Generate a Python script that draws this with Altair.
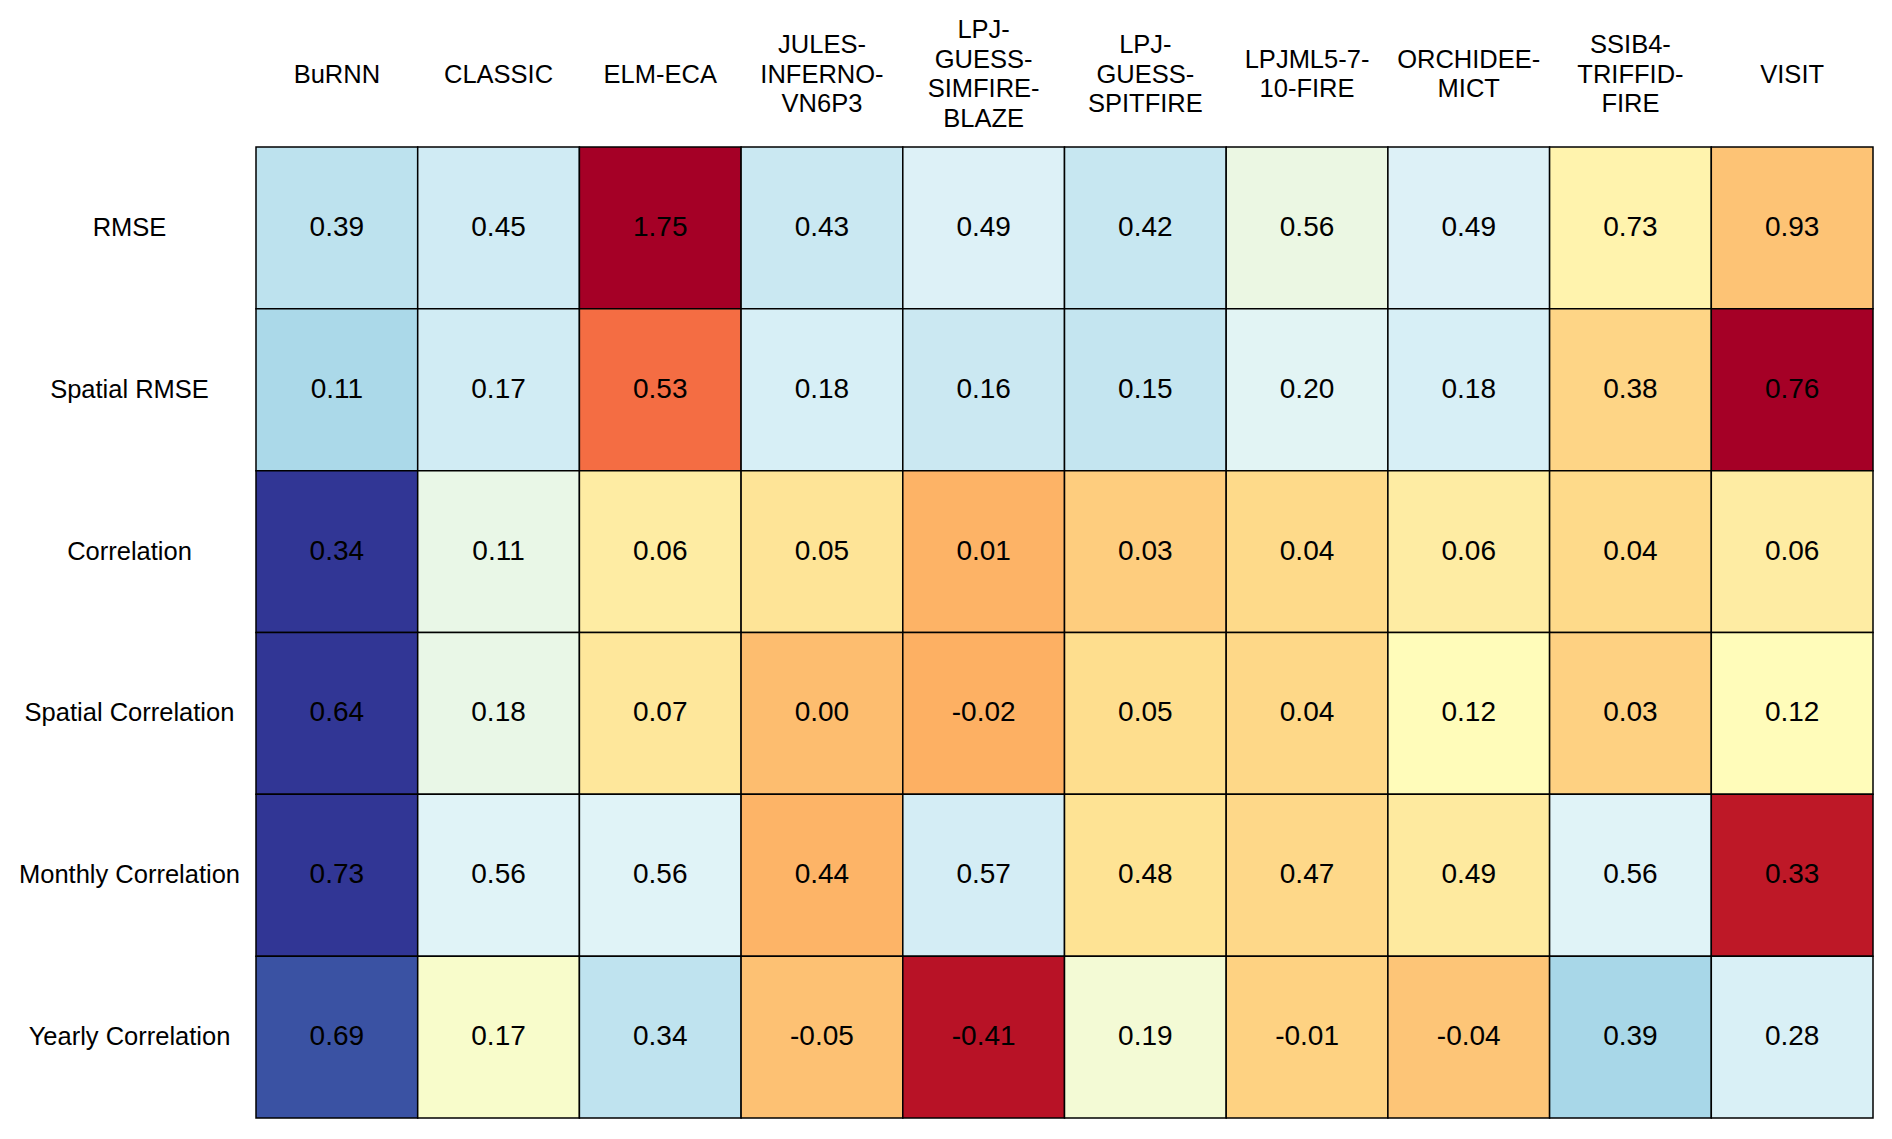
import altair as alt
import pandas as pd

# ---- data ----
models = [
    "BuRNN", "CLASSIC", "ELM-ECA", "JULES-\nINFERNO-\nVN6P3",
    "LPJ-\nGUESS-\nSIMFIRE-\nBLAZE", "LPJ-\nGUESS-\nSPITFIRE",
    "LPJML5-7-\n10-FIRE", "ORCHIDEE-\nMICT", "SSIB4-\nTRIFFID-\nFIRE", "VISIT",
]
metrics = [
    "RMSE", "Spatial RMSE", "Correlation", "Spatial Correlation",
    "Monthly Correlation", "Yearly Correlation",
]
rmse = [0.39, 0.45, 1.75, 0.43, 0.49, 0.42, 0.56, 0.49, 0.73, 0.93]
spatial_rmse = [0.11, 0.17, 0.53, 0.18, 0.16, 0.15, 0.20, 0.18, 0.38, 0.76]
correlation = [0.34, 0.11, 0.06, 0.05, 0.01, 0.03, 0.04, 0.06, 0.04, 0.06]
spatial_corr = [0.64, 0.18, 0.07, 0.00, -0.02, 0.05, 0.04, 0.12, 0.03, 0.12]
monthly_corr = [0.73, 0.56, 0.56, 0.44, 0.57, 0.48, 0.47, 0.49, 0.56, 0.33]
yearly_corr = [0.69, 0.17, 0.34, -0.05, -0.41, 0.19, -0.01, -0.04, 0.39, 0.28]
rows = [rmse, spatial_rmse, correlation, spatial_corr, monthly_corr, yearly_corr]

# per-row colour scale ends: (value at dark blue end, value at dark red end)
color_ends = [
    (-0.167, 1.50),
    (-0.142, 0.698),
    (0.275, -0.109),
    (0.503, -0.248),
    (0.728, 0.309),
    (0.744, -0.455),
]
rdylbu_r = ["#313695", "#4575b4", "#74add1", "#abd9e9", "#e0f3f8", "#ffffbf",
            "#fee090", "#fdae61", "#f46d43", "#d73027", "#a50026"]

records = []
for m, vals in zip(metrics, rows):
    for mod, v in zip(models, vals):
        records.append({"metric": m, "model": mod, "value": v, "label": f"{v:.2f}"})
df = pd.DataFrame(records)

FONT = "Liberation Sans"
LINE_H = 29.5
PAD0 = 73

nlines = "length(split(datum.value, '\\n'))"
x_label_padding = {
    "condition": [
        {"test": f"{nlines} == 4", "value": PAD0 + 3 * LINE_H / 2},
        {"test": f"{nlines} == 3", "value": PAD0 + 2 * LINE_H / 2},
        {"test": f"{nlines} == 2", "value": PAD0 + 1 * LINE_H / 2},
    ],
    "value": PAD0,
}

x_enc = alt.X(
    "model:N",
    scale=alt.Scale(domain=models, paddingInner=0, paddingOuter=0),
    axis=alt.Axis(
        orient="top", title=None, ticks=False, tickSize=0, domain=False,
        labelAngle=0, labelAlign="center", labelBaseline="middle",
        labelPadding=x_label_padding, labelFontSize=25.5, labelLineHeight=LINE_H,
        labelFont=FONT, labelColor="black", labelLimit=400, labelOverlap=False,
        labelExpr="split(datum.label, '\\n')",
    ),
)
y_enc = alt.Y(
    "metric:N",
    scale=alt.Scale(domain=metrics, paddingInner=0, paddingOuter=0),
    axis=alt.Axis(
        orient="left", title=None, ticks=False, tickSize=0, domain=False,
        labelAlign="center", labelBaseline="middle", labelPadding=127,
        labelFontSize=25.5, labelFont=FONT, labelColor="black", labelLimit=400,
        labelOverlap=False,
    ),
)

base = alt.Chart(df)
layers = []
for m, (b, r) in zip(metrics, color_ends):
    stops = [b + (r - b) * k / 10 for k in range(11)]
    layers.append(
        base.transform_filter(alt.datum.metric == m)
        .mark_rect(stroke="black", strokeWidth=1.5)
        .encode(
            x=x_enc,
            y=y_enc,
            color=alt.Color(
                "value:Q",
                scale=alt.Scale(domain=stops, range=rdylbu_r, clamp=True,
                                interpolate="rgb", nice=False, zero=False),
                legend=None,
            ),
        )
    )

text = base.mark_text(fontSize=28, font=FONT, color="black",
                      baseline="middle", align="center").encode(
    x=x_enc, y=y_enc, text="label:N"
)

chart = (
    alt.layer(*layers, text)
    .resolve_scale(color="independent")
    .properties(
        width=1617, height=971,
        padding={"left": 248, "top": 139, "right": 5, "bottom": 5},
        autosize="none",
        background="white",
    )
    .configure_view(strokeWidth=0)
)

chart.save("out.html", embed_options={"renderer": "svg", "actions": False})
